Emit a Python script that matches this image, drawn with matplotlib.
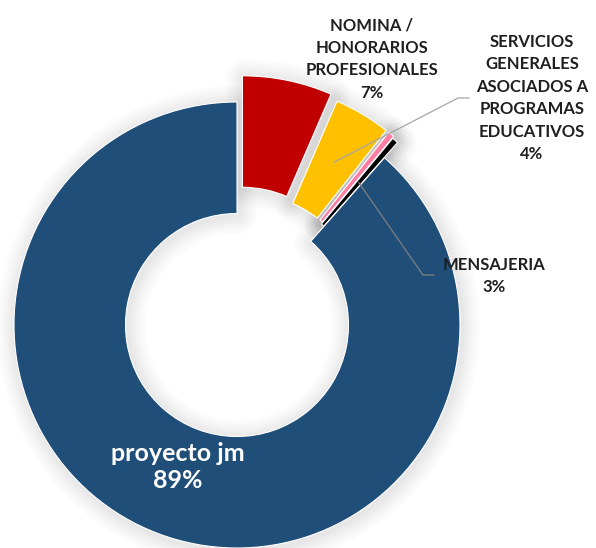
import numpy as np
import matplotlib
matplotlib.use("Agg")
import matplotlib.pyplot as plt
import matplotlib.patches as mpatches

# data (clockwise from 12 o'clock)
categories = ["NOMINA /\nHONORARIOS\nPROFESIONALES",
              "SERVICIOS\nGENERALES\nASOCIADOS A\nPROGRAMAS\nEDUCATIVOS",
              "OTROS",
              "MENSAJERIA",
              "proyecto jm"]
values = [6.5, 4.1, 0.45, 0.45, 88.5]
pct_labels = ["7%", "4%", "", "3%", "89%"]
colors = ["#C00000", "#FFC000", "#FF7CA3", "#000000", "#1F4E79"]
explode_frac = [0.12, 0.10, 0.10, 0.09, 0.0]

W, H = 596, 548
CX, CY, R = 237, H - 325, 223

plt.rcParams["font.family"] = ["Lato", "DejaVu Sans"]

fig = plt.figure(figsize=(W / 100, H / 100), dpi=100)
ax = fig.add_axes([0, 0, 1, 1])

wedges, _ = ax.pie(values, colors=colors, explode=[e * R for e in explode_frac],
                   startangle=90, counterclock=False, radius=R, center=(CX, CY),
                   wedgeprops=dict(width=R * 0.5, edgecolor="white", linewidth=0.8))
for w in wedges:
    w.set_clip_on(False)
    w.set_zorder(3)
    # soft shadow: stacked faint outlines behind each wedge, nudged down-right
    cx, cy = w.center
    for lw in (26, 21, 16, 12, 8, 4):
        sh = mpatches.Wedge((cx + 1.5, cy - 2), w.r, w.theta1, w.theta2, width=w.width,
                            facecolor="none", edgecolor=(0, 0, 0, 0.014),
                            linewidth=lw, zorder=1, joinstyle="round")
        ax.add_patch(sh)

ax.set_xlim(0, W)
ax.set_ylim(0, H)
ax.set_aspect("equal")
ax.axis("off")


def mid_point(i):
    w = wedges[i]
    ang = np.deg2rad((w.theta1 + w.theta2) / 2)
    cx, cy = w.center
    r = w.r - w.width / 2
    return cx + r * np.cos(ang), cy + r * np.sin(ang)


txt = dict(fontsize=12, fontweight="bold", color="#1F1F1F", ha="center", va="center",
           linespacing=1.5, zorder=5)

# NOMINA label (no leader)
ax.text(372, H - 59, categories[0] + "\n" + pct_labels[0], **txt)

# SERVICIOS label with leader
sx, sy = mid_point(1)
ax.plot([sx, 458, 469], [sy, H - 98, H - 98], color="#A6A6A6", lw=0.9, zorder=4)
ax.text(532, H - 98, categories[1] + "\n" + pct_labels[1], **txt)

# MENSAJERIA label with leader
mx, my = mid_point(3)
ax.plot([mx, 423, 434], [my, H - 275, H - 275], color="#7F7F7F", lw=0.9, zorder=4)
ax.text(494, H - 276, categories[3] + "\n" + pct_labels[3], **txt)

# proyecto jm label inside the ring
ax.text(178, H - 467, categories[4] + "\n" + pct_labels[4], fontsize=18,
        fontweight="bold", color="white", ha="center", va="center",
        linespacing=1.2, zorder=5)

fig.savefig("out.png", dpi=100)
